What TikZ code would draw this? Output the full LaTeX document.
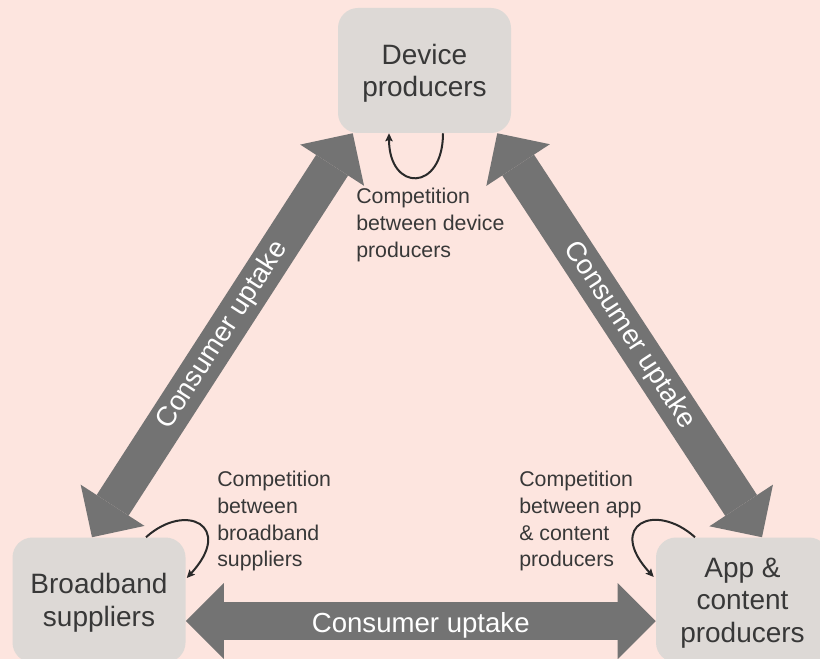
\documentclass[tikz,border=0pt]{standalone}
\usepackage{fontspec}
\setmainfont{Liberation Sans}
\usetikzlibrary{arrows.meta,calc}
\definecolor{bgpink}{HTML}{FDE5DF}
\definecolor{boxgrey}{HTML}{DDD9D6}
\definecolor{arrowgrey}{HTML}{737373}
\definecolor{textgrey}{HTML}{383838}
\definecolor{loopgrey}{HTML}{2A2A2A}

\begin{document}
\begin{tikzpicture}[x=0.75pt, y=-0.75pt,
    party/.style={fill=boxgrey, rounded corners=15pt, minimum width=129.75pt,
      minimum height=93.75pt, align=center, text=textgrey, text depth=0pt,
      font=\fontsize{21}{24.5}\selectfont},
    uptake/.style={draw=arrowgrey, line width=28.5pt,
      {Triangle[length=28.5pt,width=57pt,line width=0pt]}-{Triangle[length=28.5pt,width=57pt,line width=0pt]}},
    uplabel/.style={sloped, text=white, font=\fontsize{20.7}{24}\selectfont},
    rivalry/.style={draw=loopgrey, line width=1.5pt, -{Stealth[length=6pt,width=5.5pt,inset=1pt]}},
    note/.style={anchor=north west, inner sep=0pt, align=left, text=textgrey,
      font=\fontsize{16}{20}\selectfont}]
    \fill[bgpink] (0,0) rectangle (820,659);
    \useasboundingbox (0,0) rectangle (820,659);
    \clip (0,0) rectangle (820,659);
    \node[party] (dev) at (424.5,70.5) {Device\\producers};
    \node[party] (bb) at (99,600) {Broadband\\suppliers};
    \node[party] (app) at (742.5,600) {App \&\\content\\producers};
    \node[note] (devnote) at (356,188) {Competition\\between device\\producers};
    \node[note] (bbnote) at (217,471) {Competition\\between\\broadband\\suppliers};
    \node[note] (appnote) at (519,471) {Competition\\between app\\\& content\\producers};
    \draw[rivalry] ($(dev.south)+(18.5,0)$) .. controls +(0,59) and +(0,59) .. ($(dev.south)+(-35.5,0)$);
    \draw[rivalry] ($(bb.north)+(47,0)$) .. controls +(40,-36) and +(48,-52) .. ($(bb.east)+(1,-22)$);
    \draw[rivalry] ($(app.north)+(-47.5,0)$) .. controls +(-40,-36) and +(-48,-52) .. ($(app.west)+(-2,-23)$);
    \path ($(bb.north)+(-7,0)$) edge[uptake] node[uplabel] {Consumer uptake} ($(dev.south west)+(15,0)$);
    \path ($(dev.south east)+(-14,0)$) edge[uptake] node[uplabel] {Consumer uptake} ($(app.north)+(19.5,0)$);
    \path ($(bb.east)+(0,21)$) edge[uptake] node[uplabel, yshift=-3pt] {Consumer uptake} ($(app.west)+(0,21)$);
\end{tikzpicture}
\end{document}
